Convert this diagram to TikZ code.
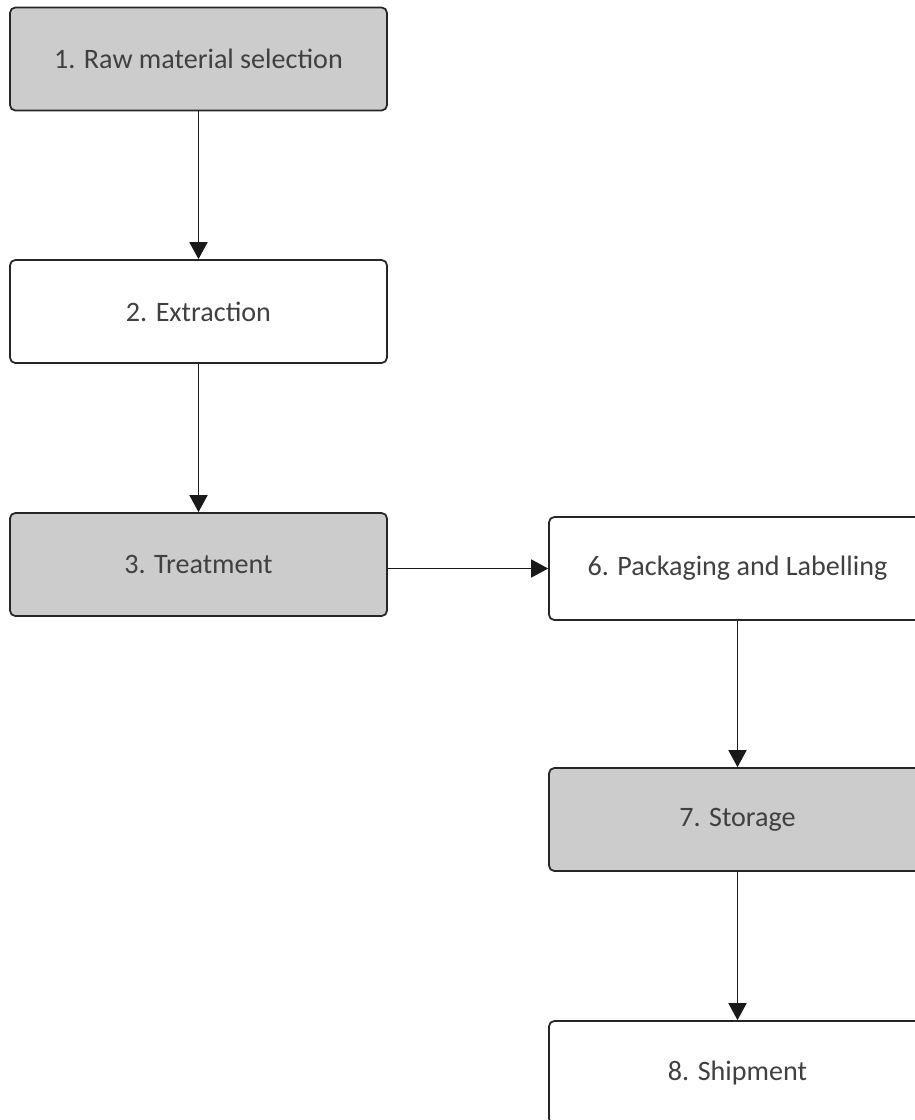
\documentclass[tikz,border=0pt]{standalone}
\usepackage{fontspec}
\setmainfont{Carlito}
\usepackage{xcolor}
\usetikzlibrary{arrows.meta, positioning}
\definecolor{boxgrey}{HTML}{CCCCCC}
\definecolor{textgrey}{HTML}{404040}

\begin{document}
\begin{tikzpicture}[x=0.02cm, y=-0.02cm,
  stage/.style={draw=black!85, line width=1pt, rounded corners=3pt,
    minimum width=7.54cm, minimum height=2.06cm, inner sep=0pt,
    text=textgrey, font=\fontsize{16}{18}\selectfont},
  shaded/.style={stage, fill=boxgrey},
  plain/.style={stage, fill=white},
  flow/.style={line width=1pt, draw=black!90, -{Triangle[length=0.34cm, width=0.36cm]}}]
\useasboundingbox (0,0) rectangle (915,1120);
\node[shaded] (raw) at (198.5,59) {1. Raw material selection};
\node[plain] (extract) at (198.5,311.5) {2. Extraction};
\node[shaded] (treat) at (198.5,564.5) {3. Treatment};
\node[plain] (pack) at (737.5,568.5) {6. Packaging and Labelling};
\node[shaded] (store) at (737.5,819.5) {7. Storage};
\node[plain] (ship) at (737.5,1072.5) {8. Shipment};
% connectors
\draw[flow] (raw) -- (extract);
\draw[flow] (extract) -- (treat);
\draw[flow] (treat.east |- pack.west) -- (pack.west);
\draw[flow] (pack) -- (store);
\draw[flow] (store) -- (ship);
\end{tikzpicture}
\end{document}
